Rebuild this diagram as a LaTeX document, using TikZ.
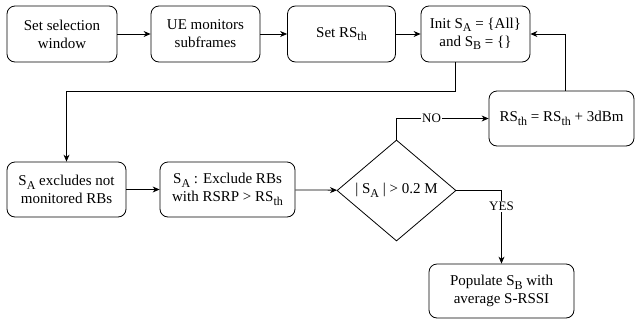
\documentclass[tikz,border=0pt]{standalone}
\usepackage{fontspec}
\setmainfont{Liberation Serif}
\newfontfamily\diagfont{Liberation Serif}
\usetikzlibrary{shapes.geometric,arrows.meta}
\newcommand{\subtxt}[1]{\raisebox{-3.5pt}{\fontsize{12}{12}\selectfont #1}}
\begin{document}
\begin{tikzpicture}[x=1pt,y=-1pt,
  box/.style={draw,rounded corners=8pt,line width=0.8pt,align=center,inner sep=0pt,minimum height=56pt,font=\diagfont\fontsize{15}{18}\selectfont},
  conn/.style={line width=0.8pt,-{Stealth[length=7pt,width=6pt]}},
  lbl/.style={fill=white,inner sep=1pt,font=\diagfont\fontsize{13}{15}\selectfont}]
\useasboundingbox (0,0) rectangle (637,322);
\node[box,minimum width=110pt] (b1) at (62,34) {Set selection\\window};
\node[box,minimum width=109pt] (b2) at (205.5,34) {UE monitors\\subframes};
\node[box,minimum width=108pt] (b3) at (341.5,34) {Set RS\subtxt{th}};
\node[box,minimum width=109pt] (b4) at (475.5,34) {Init S\subtxt{A} = \{All\}\\and S\subtxt{B} = \{\}};
\node[box,minimum width=145pt,minimum height=55pt] (rs) at (561.5,118.5) {RS\subtxt{th} = RS\subtxt{th} + 3dBm};
\node[box,minimum width=119pt,minimum height=55pt] (b5) at (66.5,189.5) {S\subtxt{A} excludes not\\monitored RBs};
\node[box,minimum width=135pt,minimum height=55pt] (b6) at (227.5,189.5) {S\subtxt{A} : Exclude RBs\\with RSRP > RS\subtxt{th}};
\node[draw,diamond,line width=0.8pt,inner sep=0pt,minimum width=119pt,minimum height=101pt,font=\diagfont\fontsize{15}{18}\selectfont] (dia) at (396.5,190.5) {| S\subtxt{A} | > 0.2 M};
\node[box,minimum width=145pt,minimum height=54pt] (b7) at (501.5,291) {Populate S\subtxt{B} with\\average S-RSSI};
\coordinate (k1) at (455,91);
\draw[conn] (b1) -- (b2);
\draw[conn] (b2) -- (b3);
\draw[conn] (b3) -- (b4);
\draw[conn] ([xshift=-20.5pt]b4.south) -- (k1) -| (b5.north);
\draw[conn] ([xshift=3.5pt]rs.north) |- (b4.east);
\draw[conn] (b5) -- (b6);
\draw[conn] (b6) -- (dia);
\draw[conn] (dia.north) |- node[lbl,pos=0.69]{NO} (rs.west);
\draw[conn] (dia.east) -| node[lbl,pos=0.61]{YES} (b7.north);
\end{tikzpicture}
\end{document}
